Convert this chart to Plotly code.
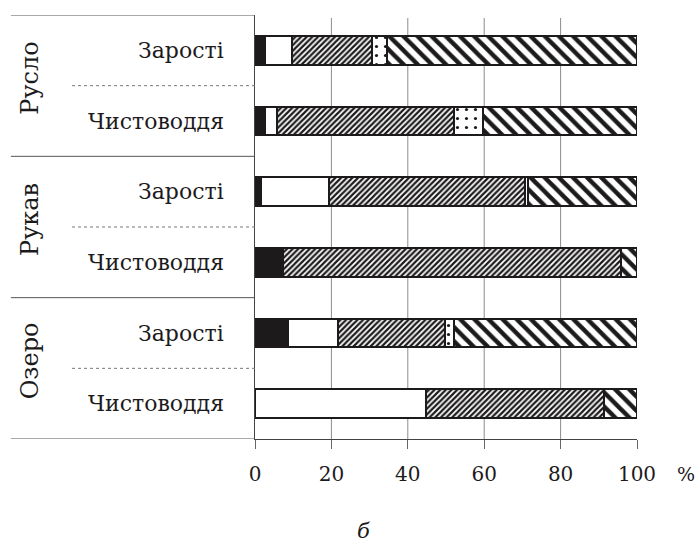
import plotly.graph_objects as go

# Rows from top to bottom: (group, habitat)
groups = ["Русло", "Рукав", "Озеро"]
habitats = ["Зарості", "Чистоводдя"]

# Share of each fraction per row (%), rows top to bottom
black_part = [2.6, 2.6, 1.5, 7.4, 8.7, 0.0]
white_part = [7.0, 3.1, 17.9, 0.0, 12.9, 44.7]
fine_hatch = [21.0, 46.4, 51.3, 88.4, 28.2, 46.7]
dotted_part = [4.0, 7.7, 0.8, 0.0, 2.2, 0.0]
coarse_hatch = [65.4, 40.2, 28.5, 4.2, 48.0, 8.6]

x_ticks = [0, 20, 40, 60, 80, 100]
grid_vals = [20, 40, 60, 80]

FONT = "DejaVu Serif"
INK = "#1c1a1b"

n_rows = len(black_part)
row_y = [n_rows - 0.5 - i for i in range(n_rows)]

series = [
    (black_part, dict(color=INK)),
    (white_part, dict(color="white")),
    (fine_hatch, dict(color="white", pattern=dict(shape="/", fgcolor=INK, bgcolor="white",
                                                  size=4, solidity=0.55, fillmode="replace"))),
    (dotted_part, dict(color="white", pattern=dict(shape=".", fgcolor=INK, bgcolor="white",
                                                   size=9, solidity=0.1, fillmode="replace"))),
    (coarse_hatch, dict(color="white", pattern=dict(shape="\\", fgcolor=INK, bgcolor="white",
                                                    size=10, solidity=0.45, fillmode="replace"))),
]

fig = go.Figure()
for values, marker in series:
    vals = [v if v > 0 else None for v in values]
    fig.add_trace(go.Bar(
        x=vals, y=row_y, orientation="h", width=0.41,
        marker=dict(**marker, line=dict(color=INK, width=2)),
        showlegend=False, hoverinfo="skip",
    ))

shapes = []
# vertical gridlines
for g in grid_vals:
    shapes.append(dict(type="line", xref="x", yref="paper", x0=g, x1=g, y0=0, y1=0.993,
                       line=dict(color="#8c8c8c", width=1), layer="below"))
# group separators (solid) and habitat separators (dotted) in the label area
for yb in [0, 2, 4, 6]:
    shapes.append(dict(type="line", xref="paper", yref="y", x0=-0.639, x1=0, y0=yb, y1=yb,
                       line=dict(color="#555", width=1)))
for yb in [1, 3, 5]:
    shapes.append(dict(type="line", xref="paper", yref="y", x0=-0.479, x1=0, y0=yb, y1=yb,
                       line=dict(color="#777", width=1, dash="dot")))

annotations = []
for i, y in enumerate(row_y):
    annotations.append(dict(text=habitats[i % 2], xref="paper", yref="y", x=0, y=y,
                            xanchor="right", yanchor="middle", xshift=-29, showarrow=False,
                            font=dict(family=FONT, size=22, color=INK)))
for gi, name in enumerate(groups):
    yc = n_rows - 1 - 2 * gi
    annotations.append(dict(text=name, xref="paper", yref="y", x=0, y=yc,
                            xanchor="center", yanchor="middle", xshift=-225, yshift=7,
                            textangle=-90, showarrow=False,
                            font=dict(family=FONT, size=24, color=INK)))
annotations.append(dict(text="%", xref="paper", yref="paper", x=1, y=0, xshift=49, yshift=-35,
                        xanchor="center", yanchor="middle", showarrow=False,
                        font=dict(family=FONT, size=19, color=INK)))
annotations.append(dict(text="<i>б</i>", xref="paper", yref="paper", x=0.283, y=0, yshift=-92,
                        xanchor="center", yanchor="middle", showarrow=False,
                        font=dict(family=FONT, size=21, color=INK)))

fig.update_layout(
    barmode="stack",
    width=698, height=546,
    margin=dict(l=255, r=61, t=15, b=107),
    paper_bgcolor="white", plot_bgcolor="white",
    shapes=shapes, annotations=annotations,
    xaxis=dict(range=[0, 100], tickvals=x_ticks, ticktext=[str(v) for v in x_ticks],
               showgrid=False, zeroline=False, showline=True, linecolor="#444", linewidth=1,
               ticks="outside", ticklen=9, tickcolor="#666", tickwidth=1,
               ticklabelstandoff=8,
               tickfont=dict(family=FONT, size=20, color=INK)),
    yaxis=dict(range=[0, 6], showticklabels=False, showgrid=False, zeroline=False,
               showline=True, linecolor="#444", linewidth=1, ticks=""),
)

fig.write_html("out.html")
